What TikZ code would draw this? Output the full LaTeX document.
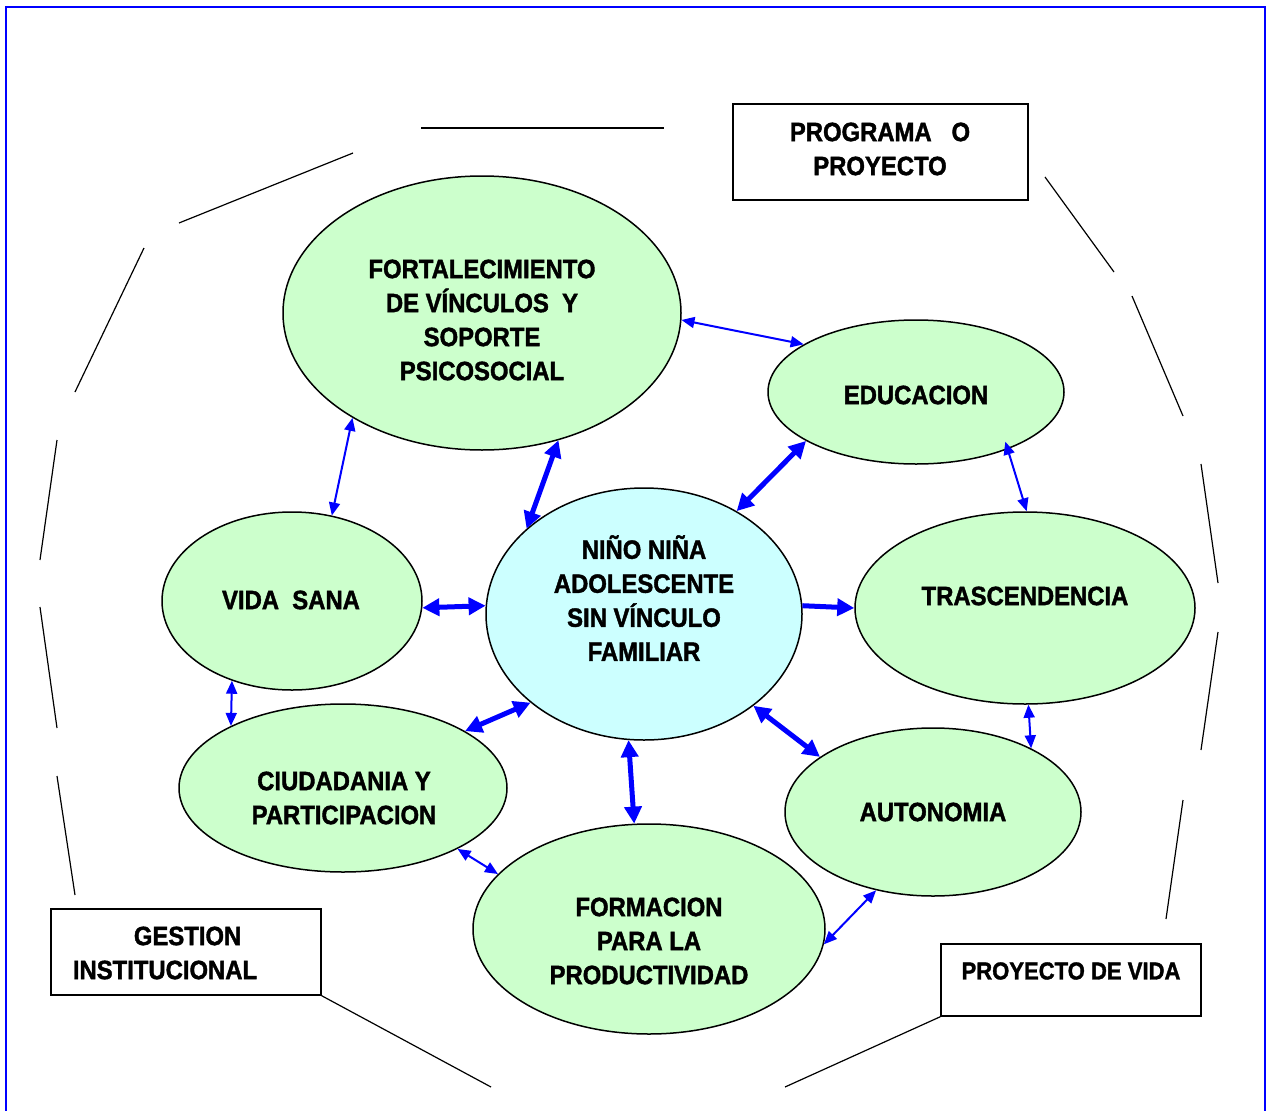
\documentclass[tikz,border=0pt]{standalone}
\usepackage{fontspec}
\setmainfont{Liberation Sans}[FakeStretch=0.9, BoldFeatures={FakeBold=1.5}]
\usetikzlibrary{shapes.geometric,arrows.meta}
\definecolor{verde}{RGB}{204,255,204}
\definecolor{celeste}{RGB}{204,255,255}
\tikzstyle{eje} = [ellipse, inner sep=0pt, draw=black, line width=1.5pt, fill=verde]
\tikzstyle{centro} = [eje, fill=celeste]
\tikzstyle{rotulo} = [align=center, inner sep=0pt, font=\bfseries\fontsize{26.5}{34}\selectfont]
\tikzstyle{caja} = [rectangle, inner sep=0pt, draw=black, line width=1.5pt, fill=white]
\tikzstyle{contorno} = [black, line width=1.2pt]
\tikzstyle{enlace} = [blue, line width=2pt, {Triangle[length=13pt,width=11pt]}-{Triangle[length=13pt,width=11pt]}]
\tikzstyle{enlacegrueso} = [blue, line width=5pt, {Triangle[length=17pt,width=17pt]}-{Triangle[length=17pt,width=17pt]}]
\tikzstyle{enlaceuno} = [blue, line width=5pt, -{Triangle[length=17pt,width=17pt]}]

\begin{document}
\begin{tikzpicture}[x=1pt, y=-1pt]
\useasboundingbox (0,0) rectangle (1272,1111);
\draw [blue, line width=2pt](6,1111) -- (6,7) -- (1265,7) -- (1265,1111);

\node (programa)[caja, minimum width=295pt, minimum height=96pt] at (880.5,152){};
\node (programatxt)[rotulo] at (880,149){PROGRAMA~~~O\\PROYECTO};
\node (gestion)[caja, minimum width=270pt, minimum height=86pt] at (186,952){};
\node (gestiontxt)[rotulo, align=left] at (165,953){\hspace*{61pt}GESTION\\INSTITUCIONAL};
\node (proyecto)[caja, minimum width=260pt, minimum height=72pt] at (1071,980){};
\node (proyectotxt)[rotulo, font=\bfseries\fontsize{24.5}{30}\selectfont] at (1071,971){PROYECTO DE VIDA};

\draw [contorno](421,128) -- (664,128);
\draw [contorno](179,223) -- (353,153);
\draw [contorno](75,392) -- (144,248);
\draw [contorno](40,560) -- (57,440);
\draw [contorno](40,607) -- (57,728);
\draw [contorno](57,776) -- (75,895);
\coordinate (gestionfin) at (491,1087);
\draw [contorno](gestion.south east) -- (gestionfin);
\coordinate (proyectofin) at (785,1087);
\draw [contorno](proyecto.south west) -- (proyectofin);
\draw [contorno](1166,919) -- (1183,800);
\draw [contorno](1201,750) -- (1218,632);
\draw [contorno](1218,583) -- (1201,464);
\draw [contorno](1183,416) -- (1132,296);
\draw [contorno](1114,272) -- (1045,177);

\node (fort)[eje, minimum width=398pt, minimum height=274pt] at (482,313){};
\node (forttxt)[rotulo] at (482,320){FORTALECIMIENTO\\DE VÍNCULOS~~Y\\SOPORTE\\PSICOSOCIAL};
\node (educ)[eje, minimum width=296pt, minimum height=144pt] at (916,392){};
\node (eductxt)[rotulo] at (916,395){EDUCACION};
\node (nino)[centro, minimum width=316pt, minimum height=252pt] at (644,614){};
\node (ninotxt)[rotulo] at (644,598){NIÑO NIÑA\\ADOLESCENTE\\SIN VÍNCULO\\FAMILIAR};
\node (vida)[eje, minimum width=260pt, minimum height=178pt] at (292,601){};
\node (vidatxt)[rotulo] at (291,600){VIDA~~SANA};
\node (tras)[eje, minimum width=340pt, minimum height=192pt] at (1025,608){};
\node (trastxt)[rotulo] at (1025,596){TRASCENDENCIA};
\node (ciud)[eje, minimum width=328pt, minimum height=168pt] at (343,788){};
\node (ciudtxt)[rotulo] at (344,798){CIUDADANIA Y\\PARTICIPACION};
\node (auto)[eje, minimum width=296pt, minimum height=168pt] at (933,812){};
\node (autotxt)[rotulo] at (933,812){AUTONOMIA};
\node (form)[eje, minimum width=352pt, minimum height=210pt] at (649,929){};
\node (formtxt)[rotulo] at (649,941){FORMACION\\PARA LA\\PRODUCTIVIDAD};

\draw [enlace](fort.-2) -- (educ.157);
\draw [enlace](fort.-141) -- (vida.65);
\draw [enlace, shorten <=-8pt](educ.-32) -- (tras.89);
\draw [enlace](vida.-127) -- (ciud.151);
\draw [enlace](tras.-88) -- (auto.33);
\draw [enlace](ciud.-28) -- (form.160);
\draw [enlace](form.-5) -- (auto.-126);

\draw [enlacegrueso](nino.144) -- (fort.-59);
\draw [enlacegrueso](nino.48) -- (educ.-156);
\draw [enlacegrueso](nino.177) -- (vida.-3);
\draw [enlaceuno](nino.3) -- (tras.180);
\draw [enlacegrueso](nino.-142) -- (ciud.25);
\draw [enlacegrueso](nino.-40) -- (auto.154);
\draw [enlacegrueso](nino.-97) -- (form.98);
\end{tikzpicture}
\end{document}
